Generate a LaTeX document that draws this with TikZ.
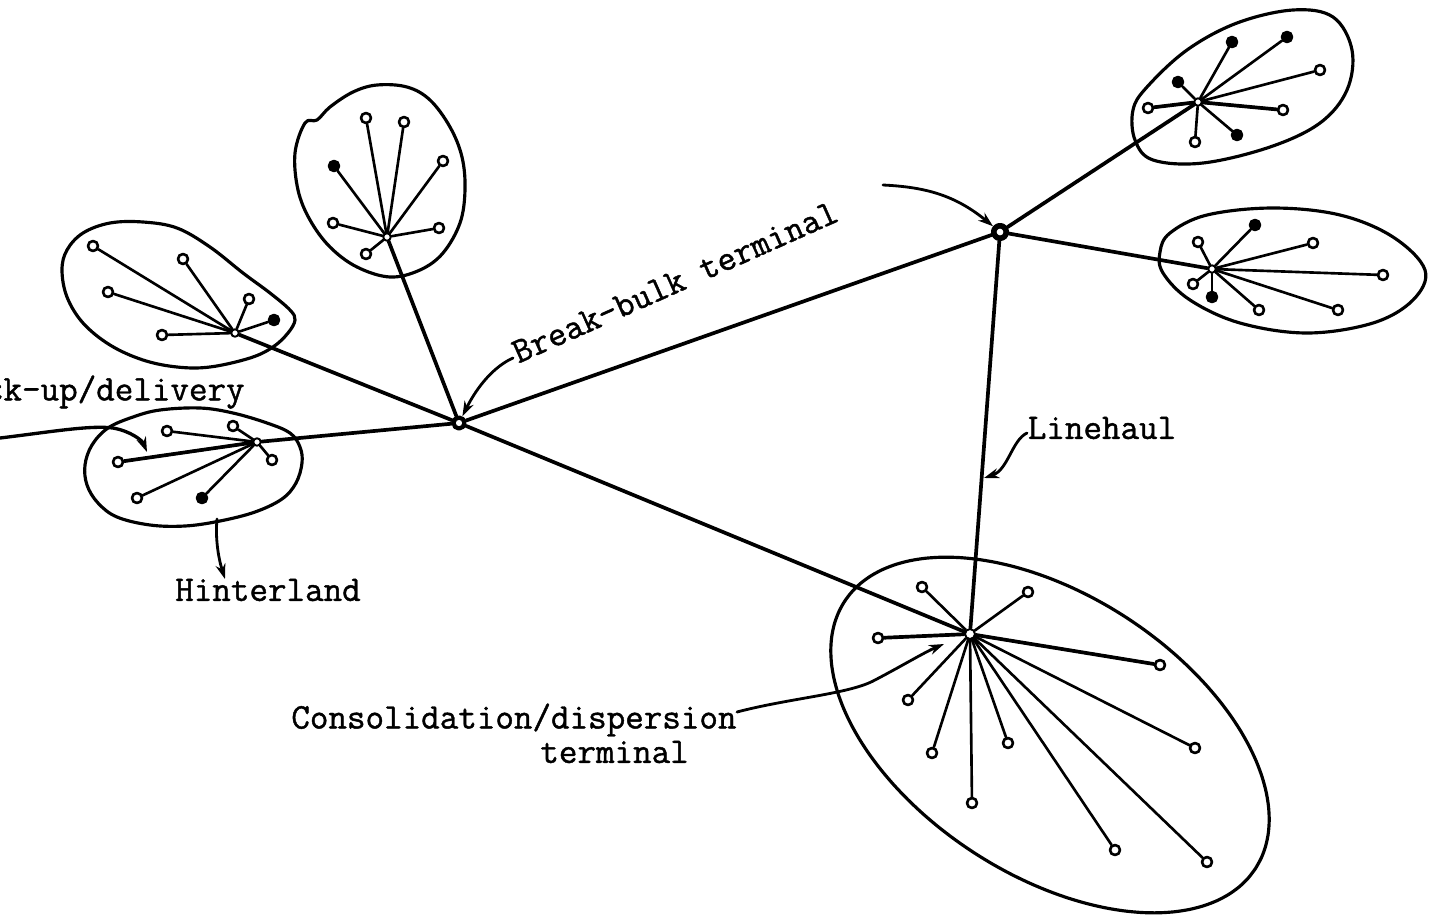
\documentclass[tikz,border=0pt]{standalone}
\usepackage{fontspec}
\newfontfamily\twfont{Latin Modern Mono}[FakeBold=1.2]
\usetikzlibrary{arrows.meta}
\begin{document}
\begin{tikzpicture}[x=0.02cm,y=-0.02cm,
  line join=round, line cap=round,
  leaf/.style={circle,draw,fill=white,line width=1.5pt,inner sep=0pt,minimum size=0.2cm},
  leafd/.style={leaf,fill=black},
  hubnode/.style={circle,draw,fill=white,line width=1.1pt,inner sep=0pt,minimum size=0.15cm},
  term/.style={circle,draw,fill=white,line width=2.4pt,inner sep=0pt,minimum size=0.22cm},
  spoke/.style={line width=1.5pt},
  trunk/.style={line width=2.1pt},
  rim/.style={line width=1.8pt},
  lbl/.style={font=\twfont\fontsize{20.5}{24}\selectfont,inner sep=0pt},
  pointer/.style={line width=1.6pt,-{Stealth[length=0.3cm,width=0.2cm]}}]
\useasboundingbox (0,0) rectangle (1438,917);
\clip (0,0) rectangle (1438,917);
\fill[white] (0,0) rectangle (1438,917);

% ---------- outlines of the local areas ----------
\draw[rim] plot[smooth cycle,tension=0.6] coordinates {(305,123) (295,153) (298,190) (310,220) (330,247) (357,267) (390,277) (420,270) (443,253) (460,223) (465,190) (462,157) (450,127) (430,100) (407,87) (377,85) (353,92) (330,107) (317,120)};
\draw[rim] plot[smooth cycle,tension=0.6] coordinates {(62,270) (67,250) (83,233) (110,223) (143,222) (177,228) (210,247) (243,273) (270,293) (290,310) (295,320) (288,333) (273,347) (250,358) (210,367) (177,367) (143,360) (110,345) (83,323) (67,297)};
\draw[rim] plot[smooth cycle,tension=0.6] coordinates {(133,417) (160,410) (200,408) (233,413) (267,423) (290,433) (300,447) (302,463) (296,483) (282,499) (255,512) (220,521) (185,526) (150,525) (117,517) (98,503) (87,485) (85,465) (92,445) (108,428)};
\draw[rim] plot[domain=0:360,samples=73,smooth] ({1050+205.5*cos(\x)-76.3*sin(\x)},{735+133.5*cos(\x)+117.5*sin(\x)});
\draw[rim] plot[smooth cycle,tension=0.6] coordinates {(1135,140) (1133,110) (1147,87) (1187,50) (1237,23) (1293,10) (1333,17) (1352,50) (1347,90) (1320,123) (1270,147) (1203,163) (1153,160)};
\draw[rim] plot[smooth cycle,tension=0.6] coordinates {(1160,252) (1170,233) (1207,215) (1273,208) (1340,215) (1393,237) (1425,270) (1413,300) (1373,323) (1307,333) (1240,323) (1190,300) (1163,273)};

% ---------- terminals and hubs ----------
\node[term] (B) at (459,423) {};
\node[term,line width=3.2pt,minimum size=0.25cm] (R) at (1000,232) {};
\node[hubnode,minimum size=0.2cm] (C) at (970,634) {};
\node[hubnode] (h1) at (387,237) {};
\node[hubnode] (h2) at (235,333) {};
\node[hubnode] (h3) at (257,442) {};
\node[hubnode] (h5) at (1198,102) {};
\node[hubnode] (h6) at (1212,269) {};

% ---------- leaves ----------
\foreach \n/\x/\y/\s in {a/366/118/leaf, b/404/122/leaf, c/443/161/leaf, d/334/166/leafd, e/333/223/leaf, f/439/228/leaf, g/366/254/leaf}
  {\node[\s] (h1\n) at (\x,\y) {}; \draw[spoke] (h1) -- (h1\n);}
\foreach \n/\x/\y/\s in {a/93/246/leaf, b/183/259/leaf, c/108/292/leaf, d/249/299/leaf, e/274/320/leafd, f/162/335/leaf}
  {\node[\s] (h2\n) at (\x,\y) {}; \draw[spoke] (h2) -- (h2\n);}
\foreach \n/\x/\y/\s in {a/167/431/leaf, b/233/426/leaf, c/118/462/leaf, d/272/460/leaf, e/137/498/leaf, f/202/498/leafd}
  {\node[\s] (h3\n) at (\x,\y) {}; \draw[spoke] (h3) -- (h3\n);}
\foreach \n/\x/\y/\s in {a/922/587/leaf, b/1028/592/leaf, c/878/638/leaf, d/1160/665/leaf, e/908/700/leaf, f/1008/743/leaf, g/932/753/leaf, h/1195/748/leaf, i/972/803/leaf, j/1115/850/leaf, k/1207/862/leaf}
  {\node[\s] (C\n) at (\x,\y) {}; \draw[spoke] (C) -- (C\n);}
\foreach \n/\x/\y/\s in {a/1232/42/leafd, b/1287/37/leafd, c/1320/70/leaf, d/1178/82/leafd, e/1148/108/leaf, f/1283/110/leaf, g/1237/135/leafd, h/1195/142/leaf}
  {\node[\s] (h5\n) at (\x,\y) {}; \draw[spoke] (h5) -- (h5\n);}
\foreach \n/\x/\y/\s in {a/1255/225/leafd, b/1198/242/leaf, c/1313/243/leaf, d/1383/275/leaf, e/1193/284/leaf, f/1212/297/leafd, g/1259/310/leaf, h/1338/310/leaf}
  {\node[\s] (h6\n) at (\x,\y) {}; \draw[spoke] (h6) -- (h6\n);}
% heavier spokes as drawn in the sketch
\draw[trunk] (h3) -- (h3c);
\draw[trunk] (h5) -- (h5e);
\draw[trunk] (h5) -- (h5f);
\draw[trunk] (C) -- (Cc);
\draw[trunk] (C) -- (Cd);

% ---------- linehaul connections ----------
\draw[trunk] (B) -- (h1);
\draw[trunk] (B) -- (h2);
\draw[trunk] (B) -- (h3);
\draw[trunk] (B) -- (R);
\draw[trunk] (B) -- (C);
\draw[trunk] (R) -- (C);
\draw[trunk] (R) -- (h5);
\draw[trunk] (R) -- (h6);

% ---------- labels ----------
\node[lbl,anchor=east] (pud) at (245,392) {Pick-up/delivery};
\node[lbl] (hint) at (268,590) {Hinterland};
\node[lbl,rotate=24] (bbt) at (675,282) {Break-bulk terminal};
\node[lbl] (lh) at (1102,428) {Linehaul};
\node[lbl,anchor=west] (cdt1) at (291,720) {Consolidation/dispersion};
\node[lbl,anchor=west] (cdt2) at (540,752) {terminal};

% ---------- pointers ----------
\coordinate (pu0) at (0,438);
\coordinate (pu1) at (147,452);
\draw[pointer,line width=1.9pt] (pu0) .. controls (50,432) and (90,425) .. (113,428) .. controls (130,431) and (142,440) .. (pu1);
\coordinate (hi0) at (217,519);
\coordinate (hi1) at (225,579);
\draw[pointer] (hi0) .. controls (215,540) and (219,560) .. (hi1);
\coordinate (bb0) at (513,358);
\draw[pointer] (bb0) .. controls (495,366) and (478,385) .. (B);
\coordinate (rr0) at (883,185);
\draw[pointer] (rr0) .. controls (925,187) and (955,195) .. (R);
\coordinate (lh0) at (1027,433);
\coordinate (lh1) at (984,478);
\draw[pointer] (lh0) .. controls (1012,440) and (1008,470) .. (lh1);
\coordinate (cd0) at (737,712);
\coordinate (cd1) at (944,644);
\draw[pointer] (cd0) .. controls (790,698) and (850,694) .. (875,680) .. controls (900,667) and (925,652) .. (cd1);
\end{tikzpicture}
\end{document}
